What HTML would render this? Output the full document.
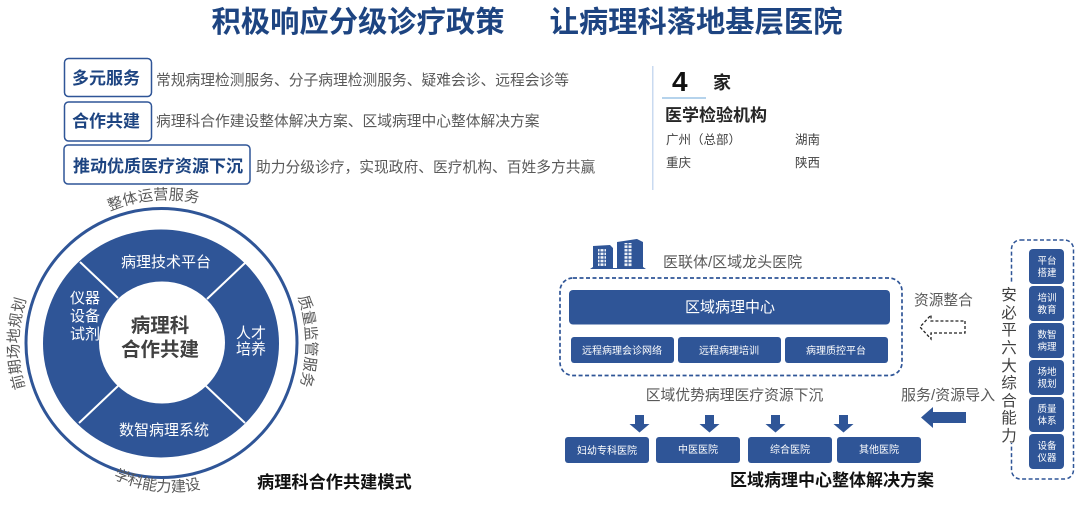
<!DOCTYPE html>
<html><head><meta charset="utf-8"><style>
html,body{margin:0;padding:0;background:#fff;width:1080px;height:505px;overflow:hidden}
svg{display:block}
text{font-family:"Liberation Sans","Noto Sans CJK SC",sans-serif}
</style></head><body>
<svg width="1080" height="505" viewBox="0 0 1080 505" xmlns="http://www.w3.org/2000/svg">
<defs>
<path id="pTop" d="M 110 211 A 142 142 0 0 1 205 205"/>
<path id="pRight" d="M 298 297 A 146 146 0 0 1 300 386"/>
<path id="pBottom" d="M 113 478 Q 158 499 203 488"/>
<path id="pLeft" d="M 25 388 A 146 146 0 0 1 27 297"/>
<pattern id="win" x="0" y="0" width="4" height="3.600" patternUnits="userSpaceOnUse"><rect width="4" height="3.600" fill="#2f5597"/><rect x=".5" y=".6" width="3" height="2.500" fill="#f2f5fa"/></pattern>
</defs>
<text x="358" y="32" text-anchor="middle" font-size="29.300" font-weight="700" fill="#1d4481">积极响应分级诊疗政策</text>
<text x="696" y="32" text-anchor="middle" font-size="29.300" font-weight="700" fill="#1d4481">让病理科落地基层医院</text>
<g fill="#fff" stroke="#2f5597" stroke-width="1.500">
<rect x="64.500" y="58.500" width="87" height="38" rx="4"/>
<rect x="64.500" y="102" width="87" height="39" rx="4"/>
<rect x="64" y="145" width="186" height="39" rx="4"/>
</g>
<g font-size="17" font-weight="700" fill="#1d4481">
<text x="72" y="84">多元服务</text>
<text x="72" y="127">合作共建</text>
<text x="73" y="172">推动优质医疗资源下沉</text>
</g>
<g font-size="14.750" fill="#595959">
<text x="156" y="85">常规病理检测服务、分子病理检测服务、疑难会诊、远程会诊等</text>
<text x="156" y="126">病理科合作建设整体解决方案、区域病理中心整体解决方案</text>
<text x="256" y="172">助力分级诊疗，实现政府、医疗机构、百姓多方共赢</text>
</g>
<rect x="652" y="66" width="1.500" height="124" fill="#c9daf0"/>
<rect x="662" y="97" width="44" height="2" fill="#b5d3ec"/>
<text x="672" y="91" font-size="28" font-weight="700" fill="#111">4</text>
<text x="713" y="89" font-size="18" font-weight="700" fill="#222">家</text>
<text x="665" y="121" font-size="17" font-weight="700" fill="#262626">医学检验机构</text>
<g font-size="12.500" fill="#404040">
<text x="666" y="144">广州（总部）</text>
<text x="795" y="144">湖南</text>
<text x="666" y="167">重庆</text>
<text x="795" y="167">陕西</text>
</g>

<!-- circle -->
<ellipse cx="161.500" cy="343" rx="135.500" ry="134.500" fill="#fff" stroke="#2f5597" stroke-width="3"/>
<ellipse cx="161" cy="343.500" rx="118" ry="114" fill="#2f5597"/>
<g stroke="#fff" stroke-width="2">
<line x1="80" y1="262" x2="118" y2="298"/>
<line x1="245" y1="263" x2="207" y2="299"/>
<line x1="79" y1="423" x2="118" y2="386"/>
<line x1="245" y1="423" x2="206" y2="386"/>
</g>
<ellipse cx="162" cy="342.500" rx="63" ry="61" fill="#fff"/>
<g fill="#fff" font-size="15" text-anchor="middle">
<text x="166" y="267">病理技术平台</text>
<text x="164" y="435">数智病理系统</text>
<text x="85" y="303">仪器</text>
<text x="85" y="321">设备</text>
<text x="85" y="339">试剂</text>
<text x="251" y="338">人才</text>
<text x="251" y="354">培养</text>
</g>
<g fill="#404040" font-size="19.500" font-weight="700" text-anchor="middle">
<text x="160" y="332">病理科</text>
<text x="160" y="356">合作共建</text>
</g>
<g fill="#595959" font-size="15">
<text><textPath href="#pTop">整体运营服务</textPath></text>
<text><textPath href="#pRight">质量监管服务</textPath></text>
<text><textPath href="#pBottom">学科能力建设</textPath></text>
<text><textPath href="#pLeft">前期场地规划</textPath></text>
</g>
<text x="257" y="488" font-size="17.200" font-weight="700" fill="#111">病理科合作共建模式</text>

<!-- building -->
<path d="M590 269 L593 267 L593 246 L610 245 L613 248 L613 268 L617 268 L617 242 L637 239 L643 242 L643 267 L646 269 Z" fill="#2f5597"/>
<rect x="598" y="249" width="8" height="17" fill="url(#win)"/>
<rect x="624" y="243" width="8" height="24" fill="url(#win)"/>
<text x="663" y="267" font-size="15" fill="#595959">医联体/区域龙头医院</text>
<rect x="560" y="278" width="342" height="97.500" rx="13" fill="none" stroke="#2f5597" stroke-width="1.700" stroke-dasharray="4 2.500"/>
<g fill="#2f5597">
<rect x="569" y="290" width="321" height="34.500" rx="4"/>
<rect x="571" y="337" width="103" height="26" rx="3"/>
<rect x="678" y="337" width="103" height="26" rx="3"/>
<rect x="785" y="337" width="103" height="26" rx="3"/>
<rect x="565" y="437" width="84" height="26" rx="3"/>
<rect x="656" y="437" width="84" height="26" rx="3"/>
<rect x="748" y="437" width="84" height="26" rx="3"/>
<rect x="837" y="437" width="84" height="26" rx="3"/>
</g>
<g fill="#fff" text-anchor="middle">
<text x="730" y="312" font-size="15">区域病理中心</text>
<g font-size="10">
<text x="622" y="354">远程病理会诊网络</text>
<text x="729" y="354">远程病理培训</text>
<text x="836" y="354">病理质控平台</text>
<text x="607" y="454">妇幼专科医院</text>
<text x="698" y="453">中医医院</text>
<text x="790" y="453">综合医院</text>
<text x="879" y="453">其他医院</text>
</g>
</g>
<text x="734.500" y="400" text-anchor="middle" font-size="14.800" fill="#595959">区域优势病理医疗资源下沉</text>
<g fill="#2f5597">
<path d="M635 415h9v9h5.500l-10 8.500-10-8.500h5.500z"/>
<path d="M705 415h9v9h5.500l-10 8.500-10-8.500h5.500z"/>
<path d="M771 415h9v9h5.500l-10 8.500-10-8.500h5.500z"/>
<path d="M839 415h9v9h5.500l-10 8.500-10-8.500h5.500z"/>
<path d="M966 412 V423 H933 V428 L921 417.500 L933 407 V412 Z"/>
</g>
<text x="730" y="486" font-size="17" font-weight="700" fill="#111">区域病理中心整体解决方案</text>
<text x="914" y="305" font-size="14.700" fill="#595959">资源整合</text>
<text x="901" y="400" font-size="15" fill="#595959">服务/资源导入</text>
<path d="M965 321 V333 H931 V339 L920 327 L931 315 V321 Z" fill="#fff" stroke="#222" stroke-width="1.300" stroke-dasharray="3 2"/>
<rect x="1011.500" y="240" width="62" height="239" rx="9" fill="none" stroke="#2f5597" stroke-width="1.500" stroke-dasharray="4 2.500"/>
<rect x="1000" y="283" width="20" height="160" fill="#fff"/>
<g font-size="15.500" fill="#404040" text-anchor="middle">
<text x="1009" y="300">安</text><text x="1009" y="318">必</text><text x="1009" y="335">平</text><text x="1009" y="353">六</text><text x="1009" y="371">大</text><text x="1009" y="388">综</text><text x="1009" y="406">合</text><text x="1009" y="423">能</text><text x="1009" y="441">力</text>
</g>
<g fill="#2f5597">
<rect x="1029" y="249" width="35" height="35" rx="4"/>
<rect x="1029" y="286" width="35" height="35" rx="4"/>
<rect x="1029" y="323" width="35" height="35" rx="4"/>
<rect x="1029" y="360" width="35" height="35" rx="4"/>
<rect x="1029" y="397" width="35" height="35" rx="4"/>
<rect x="1029" y="434" width="35" height="35" rx="4"/>
</g>
<g fill="#fff" font-size="9.500" text-anchor="middle">
<text x="1047" y="264">平台</text><text x="1047" y="276">搭建</text>
<text x="1047" y="301">培训</text><text x="1047" y="313">教育</text>
<text x="1047" y="338">数智</text><text x="1047" y="350">病理</text>
<text x="1047" y="375">场地</text><text x="1047" y="387">规划</text>
<text x="1047" y="412">质量</text><text x="1047" y="424">体系</text>
<text x="1047" y="449">设备</text><text x="1047" y="461">仪器</text>
</g>
</svg>
</body></html>
